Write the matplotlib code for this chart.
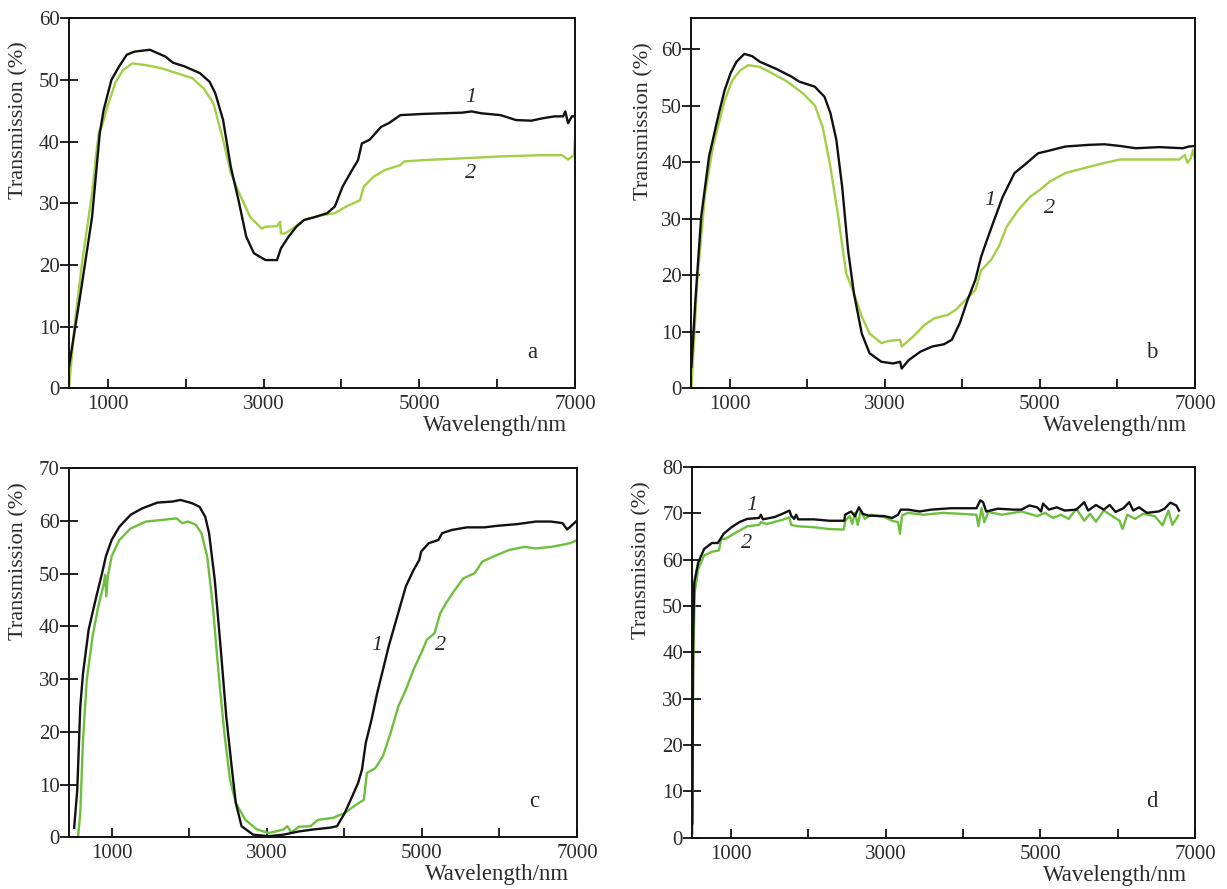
import matplotlib
matplotlib.use("Agg")
import matplotlib.pyplot as plt

plt.rcParams["font.family"] = "serif"
plt.rcParams["font.serif"] = ["Liberation Serif", "DejaVu Serif"]

# ---- panel a ----
wl_a1 = [500, 649, 797, 896, 945, 1045, 1144, 1243, 1342, 1540, 1738, 1837, 1985, 2183,
         2307, 2381, 2480, 2579, 2678, 2777, 2876, 3025, 3173, 3223, 3322, 3421, 3520,
         3668, 3817, 3916, 4015, 4114, 4213, 4262, 4361, 4510, 4609, 4757, 5054, 5550,
         5673, 5797, 6045, 6243, 6441, 6589, 6738, 6847, 6876, 6911, 6960, 7000]
tr_a1 = [3.5, 15.4, 27.8, 41.4, 45.1, 50.0, 52.2, 54.1, 54.6, 54.9, 53.8, 52.8, 52.2, 51.1,
         49.7, 47.8, 43.5, 35.9, 30.5, 24.6, 21.9, 20.8, 20.8, 22.7, 24.6, 26.2, 27.3,
         27.8, 28.4, 29.5, 32.7, 34.9, 37.0, 39.7, 40.3, 42.4, 43.0, 44.3, 44.5, 44.7,
         44.9, 44.6, 44.3, 43.5, 43.4, 43.8, 44.1, 44.1, 44.9, 43.0, 44.1, 44.1]
wl_a2 = [500, 574, 673, 797, 861, 886, 921, 995, 1094, 1193, 1317, 1490, 1688, 1886, 2084,
         2233, 2356, 2480, 2579, 2678, 2827, 2975, 3025, 3173, 3213, 3223, 3272, 3371,
         3520, 3718, 3916, 4064, 4238, 4287, 4411, 4559, 4757, 4807, 5054, 5550, 6045,
         6540, 6837, 6911, 6985, 7000]
tr_a2 = [0.0, 10.5, 20.8, 31.6, 39.2, 41.6, 42.4, 45.7, 49.5, 51.6, 52.7, 52.4, 51.9, 51.1,
         50.3, 48.6, 46.2, 40.3, 34.9, 31.9, 27.8, 25.9, 26.2, 26.3, 27.0, 25.1, 25.1,
         25.9, 27.3, 28.0, 28.4, 29.5, 30.5, 32.7, 34.3, 35.4, 36.2, 36.8, 37.0, 37.3,
         37.6, 37.8, 37.8, 37.1, 37.8, 40.3]

# ---- panel b ----
wl_b1 = [505, 556, 631, 732, 859, 934, 1010, 1086, 1187, 1288, 1389, 1591, 1793, 1894,
         2096, 2222, 2298, 2374, 2449, 2525, 2601, 2702, 2803, 2955, 3106, 3197, 3217,
         3308, 3460, 3611, 3763, 3864, 3965, 4066, 4167, 4242, 4318, 4394, 4520, 4672,
         4823, 4924, 4975, 5126, 5328, 5631, 5833, 6035, 6237, 6540, 6843, 6919, 7000]
tr_b1 = [3.8, 15.6, 30.4, 41.0, 48.7, 52.8, 55.8, 57.8, 59.2, 58.8, 57.8, 56.6, 55.2, 54.3,
         53.4, 51.6, 48.7, 44.0, 35.7, 24.5, 16.8, 9.7, 6.2, 4.7, 4.4, 4.7, 3.5,
         5.0, 6.5, 7.4, 7.8, 8.6, 11.5, 15.6, 19.2, 23.3, 26.3, 29.2, 33.9, 38.1,
         39.8, 41.0, 41.6, 42.1, 42.8, 43.1, 43.2, 42.9, 42.5, 42.7, 42.5, 42.8, 42.9]
wl_b2 = [505, 581, 682, 783, 859, 934, 1035, 1136, 1237, 1389, 1540, 1742, 1944, 2096,
         2197, 2298, 2399, 2500, 2601, 2702, 2803, 2955, 3056, 3197, 3217, 3359, 3510,
         3636, 3813, 3914, 4015, 4167, 4242, 4369, 4470, 4571, 4722, 4874, 5025, 5126,
         5328, 5631, 5833, 6035, 6540, 6793, 6869, 6904, 6944, 6975, 7000]
tr_b2 = [0.0, 19.2, 34.5, 42.8, 46.9, 51.0, 54.6, 56.3, 57.2, 56.9, 55.8, 54.3, 52.2, 50.1,
         46.3, 39.2, 30.4, 20.4, 16.8, 12.7, 9.7, 8.0, 8.4, 8.6, 7.4, 9.1, 11.2,
         12.4, 13.0, 13.9, 15.3, 17.4, 20.9, 22.7, 25.1, 28.6, 31.6, 33.9, 35.4, 36.6,
         38.1, 39.2, 39.9, 40.5, 40.5, 40.5, 41.3, 39.9, 40.7, 42.2, 40.4]

# ---- panel c ----
wl_c1 = [517, 557, 596, 631, 704, 803, 877, 926, 1000, 1099, 1246, 1394, 1591, 1788, 1887,
         2034, 2133, 2207, 2256, 2330, 2404, 2478, 2552, 2601, 2675, 2823, 3020, 3217,
         3414, 3611, 3808, 3906, 4005, 4103, 4177, 4227, 4276, 4350, 4424, 4498, 4571,
         4645, 4719, 4793, 4892, 4966, 4990, 5089, 5212, 5261, 5384, 5581, 5803, 5975,
         6222, 6468, 6665, 6813, 6872, 6911, 7000]
tr_c1 = [1.8, 9.0, 24.8, 31.1, 39.4, 45.7, 50.1, 53.3, 56.4, 58.9, 61.2, 62.4, 63.5, 63.7, 64.0,
         63.4, 62.7, 60.8, 57.7, 48.8, 36.2, 22.9, 12.8, 6.5, 2.1, 0.5, 0.2, 0.5,
         1.1, 1.5, 1.8, 2.1, 4.6, 7.8, 10.3, 12.8, 17.9, 22.3, 27.4, 31.8, 36.2,
         40.0, 43.8, 47.6, 50.7, 52.6, 54.2, 55.8, 56.4, 57.7, 58.3, 58.8, 58.8, 59.1,
         59.4, 59.9, 59.9, 59.6, 58.4, 58.9, 60.1]
wl_c2 = [567, 596, 631, 680, 754, 828, 901, 916, 931, 951, 1000, 1099, 1246, 1443, 1640,
         1837, 1911, 1985, 2084, 2158, 2232, 2305, 2379, 2453, 2527, 2601, 2724, 2872,
         3020, 3118, 3217, 3266, 3315, 3414, 3562, 3660, 3857, 4005, 4153, 4251, 4291,
         4399, 4498, 4596, 4695, 4793, 4892, 4990, 5064, 5163, 5236, 5310, 5409, 5532,
         5680, 5778, 5926, 6123, 6320, 6468, 6665, 6813, 6911, 7000]
tr_c2 = [0.0, 4.6, 18.5, 29.9, 38.1, 43.8, 48.2, 49.8, 45.7, 49.5, 53.3, 56.4, 58.6, 59.9, 60.2,
         60.5, 59.6, 59.9, 59.3, 57.7, 53.3, 43.8, 31.1, 19.8, 10.9, 6.5, 3.3, 1.5,
         0.8, 1.1, 1.5, 2.1, 0.9, 2.0, 2.1, 3.3, 3.7, 4.6, 6.2, 7.1, 12.2,
         13.1, 15.4, 19.8, 24.8, 28.0, 31.8, 34.9, 37.5, 38.7, 42.5, 44.4, 46.6, 49.1,
         50.1, 52.3, 53.3, 54.5, 55.1, 54.8, 55.1, 55.5, 55.8, 56.4]

# ---- panel d ----
wl_d1 = [504, 514, 529, 580, 656, 757, 833, 868, 909, 1010, 1111, 1213, 1365, 1390, 1415,
         1567, 1668, 1759, 1780, 1820, 1846, 1871, 2073, 2276, 2468, 2478, 2554, 2605,
         2656, 2706, 2782, 2985, 3086, 3162, 3197, 3289, 3441, 3592, 3846, 4175, 4225,
         4261, 4301, 4453, 4656, 4757, 4858, 4959, 5010, 5035, 5111, 5213, 5314, 5466,
         5567, 5618, 5719, 5820, 5896, 5972, 6073, 6149, 6200, 6276, 6377, 6529, 6605,
         6681, 6757, 6792]
tr_d1 = [3.1, 42.8, 55.1, 59.4, 62.3, 63.6, 63.6, 64.5, 65.6, 67.0, 68.1, 68.8, 69.0, 69.7, 68.7,
         69.2, 69.9, 70.6, 69.5, 68.8, 69.7, 68.7, 68.7, 68.4, 68.4, 69.7, 70.4, 69.4,
         71.3, 69.9, 69.5, 69.4, 69.0, 69.7, 70.8, 70.8, 70.4, 70.8, 71.1, 71.1, 72.8,
         72.4, 70.4, 71.0, 70.8, 70.8, 71.7, 71.3, 70.4, 72.1, 70.8, 71.3, 70.6, 70.8,
         72.4, 70.6, 71.8, 70.8, 71.8, 70.3, 71.1, 72.4, 70.6, 71.3, 70.1, 70.4, 71.0,
         72.3, 71.7, 70.6]
wl_d2 = [504, 514, 534, 580, 656, 757, 848, 878, 934, 1061, 1213, 1365, 1390, 1466, 1668,
         1759, 1780, 1871, 2073, 2276, 2463, 2478, 2539, 2570, 2605, 2641, 2681, 2732,
         2808, 2985, 3086, 3162, 3187, 3213, 3289, 3491, 3744, 4175, 4200, 4241, 4276,
         4327, 4504, 4757, 4959, 5061, 5165, 5266, 5367, 5466, 5567, 5643, 5719, 5820,
         5922, 6023, 6063, 6124, 6225, 6327, 6478, 6580, 6656, 6706, 6782]
tr_d2 = [0.9, 35.6, 52.9, 58.0, 60.9, 61.7, 62.0, 64.5, 64.5, 65.8, 67.2, 67.5, 68.1, 67.7, 68.6,
         69.1, 67.5, 67.2, 67.0, 66.6, 66.5, 68.4, 69.4, 67.7, 70.1, 67.5, 70.6, 68.8,
         69.7, 69.2, 68.4, 68.1, 65.6, 69.5, 70.1, 69.7, 70.1, 69.7, 67.2, 71.1, 68.1,
         70.3, 69.7, 70.4, 69.4, 70.1, 69.0, 69.7, 68.8, 71.0, 68.4, 69.9, 68.2, 70.6,
         69.5, 68.4, 66.6, 69.7, 68.8, 69.9, 69.4, 67.4, 70.6, 67.5, 69.5]

BLACK = "#111111"
TEXT = "#2b2b2b"

panels = [
    dict(pos=[0.0562, 0.5632, 0.4124, 0.4162], xlim=(500, 7000), ylim=(0, 60), yticks=range(0, 61, 10),
         s1=(wl_a1, tr_a1), s2=(wl_a2, tr_a2), green="#a3cf45", letter="a",
         lab1=(5660, 47.2), lab2=(5660, 34.9), ylab=(-0.08, 0.725)),
    dict(pos=[0.5632, 0.5632, 0.4107, 0.4162], xlim=(500, 7000), ylim=(0, 65.5), yticks=range(0, 61, 10),
         s1=(wl_b1, tr_b1), s2=(wl_b2, tr_b2), green="#a3cf45", letter="b",
         lab1=(4350, 33.2), lab2=(5120, 31.8), ylab=(-0.075, 0.722)),
    dict(pos=[0.0562, 0.0582, 0.4141, 0.4150], xlim=(450, 7000), ylim=(0, 70), yticks=range(0, 71, 10),
         s1=(wl_c1, tr_c1), s2=(wl_c2, tr_c2), green="#6dbf3e", letter="c",
         lab1=(4420, 36.3), lab2=(5240, 36.3), ylab=(-0.08, 0.749)),
    dict(pos=[0.5640, 0.0577, 0.4100, 0.4170], xlim=(500, 7000), ylim=(0, 80), yticks=range(0, 81, 10),
         s1=(wl_d1, tr_d1), s2=(wl_d2, tr_d2), green="#6dbf3e", letter="d",
         lab1=(1275, 71.6), lab2=(1210, 63.5), ylab=(-0.08, 0.748)),
]

fig = plt.figure(figsize=(12.27, 8.89), dpi=100)

for p in panels:
    ax = fig.add_axes(p["pos"])
    ax.plot(*p["s2"], color=p["green"], lw=1.7, zorder=2)
    ax.plot(*p["s1"], color=BLACK, lw=1.7, zorder=3)
    ax.set_xlim(*p["xlim"])
    ax.set_ylim(*p["ylim"])
    ax.set_xticks(range(1000, 7001, 1000))
    ax.set_xticklabels(["1000", "", "3000", "", "5000", "", "7000"])
    ax.set_yticks(list(p["yticks"]))
    for sp in ax.spines.values():
        sp.set_linewidth(1.4)
        sp.set_color(BLACK)
    ax.tick_params(axis="x", direction="in", length=6.5, width=1.3, pad=5,
                   labelsize=15, labelcolor=TEXT, color=BLACK)
    ax.tick_params(axis="y", direction="inout", length=13, width=1.3, pad=0,
                   labelsize=15, labelcolor=TEXT, color=BLACK)
    ax.set_xlabel("Wavelength/nm", fontsize=16.5, color=TEXT, loc="right")
    ax.xaxis.set_label_coords(0.984, -0.073)
    ax.xaxis.label.set_verticalalignment("top")
    ax.set_ylabel("Transmission (%)", fontsize=16, color=TEXT)
    ax.yaxis.set_label_coords(*p["ylab"])
    ax.text(*p["lab1"], "1", fontsize=16, style="italic", color=TEXT, ha="center", va="center")
    ax.text(*p["lab2"], "2", fontsize=16, style="italic", color=TEXT, ha="center", va="center")
    ax.text(0.915, 0.097, p["letter"], transform=ax.transAxes, fontsize=16.5, color=TEXT,
            ha="center", va="center")

fig.savefig("out.png", dpi=100)
